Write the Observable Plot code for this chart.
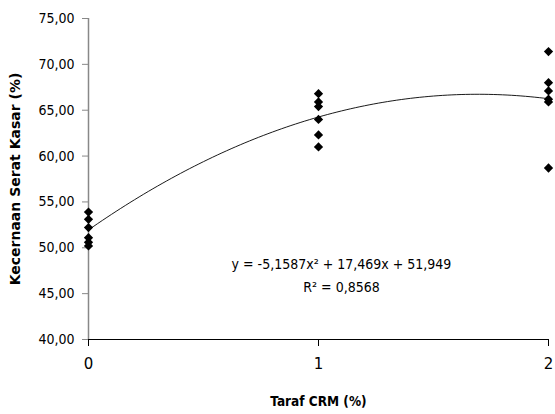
<!DOCTYPE html>
<html><head><meta charset="utf-8">
<script src="https://cdn.jsdelivr.net/npm/d3@7"></script>
<script src="https://cdn.jsdelivr.net/npm/@observablehq/plot@0.6"></script>
<style>
body{margin:0;background:#fff;}
#chart svg{display:block;}
</style>
</head><body><div id="chart"></div>
<script>
const levels = [0, 1, 2];
const xTickLabels = ["0", "1", "2"];
const yTicks = [40, 45, 50, 55, 60, 65, 70, 75];
const digestibility0 = [53.9, 53.1, 52.2, 51.1, 50.6, 50.2];
const digestibility1 = [66.8, 65.9, 65.4, 64.0, 62.3, 61.0];
const digestibility2 = [71.4, 68.0, 67.1, 66.2, 65.9, 58.7];
const coef = [-5.1587, 17.469, 51.949];
const equationText = ["y = -5,1587x\u00B2 + 17,469x + 51,949", "R\u00B2 = 0,8568"];
const labelPos = [[1.1, 48.2], [1.1, 45.7]];

const points = [];
[digestibility0, digestibility1, digestibility2].forEach((arr, i) =>
  arr.forEach(v => points.push({x: levels[i], y: v})));
const fit = d3.range(0, 2.0001, 0.02).map(x => ({x, y: coef[0]*x*x + coef[1]*x + coef[2]}));
const texts = equationText.map((t, i) => ({t, x: labelPos[i][0], y: labelPos[i][1]}));
const fmt = d => d.toFixed(2).replace(".", ",");
const narrow = "'Liberation Sans Narrow', 'DejaVu Sans Condensed', 'Liberation Sans', sans-serif";

const plot = Plot.plot({
  width: 555, height: 414,
  marginLeft: 88, marginRight: 7, marginTop: 18, marginBottom: 75,
  style: {fontFamily: "'DejaVu Sans', sans-serif", background: "#fff"},
  x: {domain: [0, 2]},
  y: {domain: [40, 75]},
  marks: [
    Plot.ruleX([0], {stroke: "#888", strokeWidth: 1.5}),
    Plot.axisY({ticks: yTicks, tickFormat: fmt, tickSize: 6, tickPadding: 8, stroke: "#888",
      fontSize: 14, fill: "#000", label: null, fontFamily: "'DejaVu Sans Condensed', sans-serif"}),
    Plot.axisX({ticks: levels, tickFormat: (d, i) => xTickLabels[i], tickSize: 7, tickPadding: 12,
      stroke: "#000", fontSize: 15, fill: "#000", label: null}),
    Plot.ruleY([40], {stroke: "#000", strokeWidth: 1}),
    Plot.line(fit, {x: "x", y: "y", stroke: "#000", strokeWidth: 0.9}),
    Plot.dot(points, {x: "x", y: "y", symbol: "square", rotate: 45, fill: "#000", r: 3.7}),
    Plot.text(texts, {x: "x", y: "y", text: "t", fontSize: 14, fill: "#000", fontFamily: narrow}),
    Plot.text(["Kecernaan Serat Kasar (%)"], {frameAnchor: "left", dx: -73, rotate: -90,
      textAnchor: "middle", fontWeight: "bold", fontSize: 14, fill: "#000"}),
    Plot.text(["Taraf CRM (%)"], {frameAnchor: "bottom", dy: 66, fontWeight: "bold", fontSize: 13.5,
      fill: "#000", fontFamily: narrow})
  ]
});
document.getElementById("chart").appendChild(plot);
</script></body></html>
